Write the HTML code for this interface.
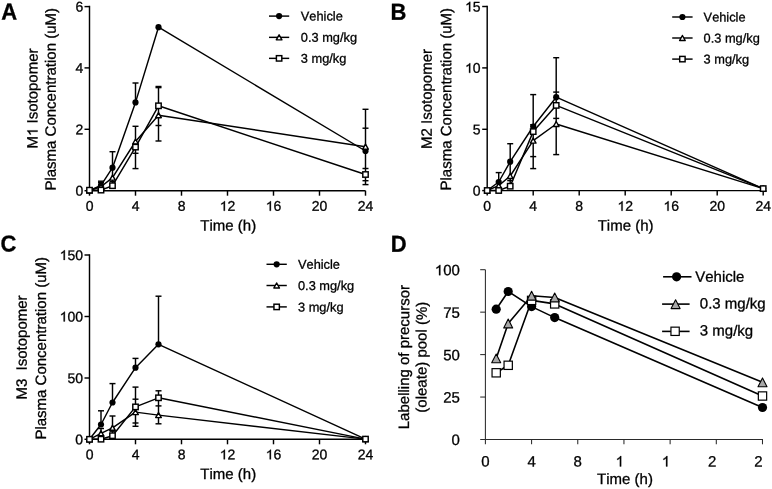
<!DOCTYPE html>
<html><head><meta charset="utf-8"><style>
html,body{margin:0;padding:0;background:#fff;}
body{width:772px;height:489px;overflow:hidden;}
svg{display:block;font-family:"Liberation Sans", sans-serif;will-change:transform;text-rendering:geometricPrecision;font-kerning:none;}
text{fill:#000;stroke:#000;stroke-width:0.3px;} path{fill:#000;stroke:#000;} .h{fill-opacity:0;stroke-opacity:0;}
</style></head><body>
<svg width="772" height="489" viewBox="0 0 772 489">
<rect width="772" height="489" fill="#fff"/>
<line x1="89.50" y1="5.78" x2="89.50" y2="191.42" stroke="#000" stroke-width="1.45"/>
<line x1="89.50" y1="190.70" x2="365.50" y2="190.70" stroke="#000" stroke-width="1.45"/>
<line x1="84.50" y1="6.60" x2="89.50" y2="6.60" stroke="#000" stroke-width="1.45"/>
<g transform="translate(83.20,11.50) rotate(0.05)"><text x="-7.79" y="0" font-size="14">6</text></g>
<line x1="84.50" y1="67.90" x2="89.50" y2="67.90" stroke="#000" stroke-width="1.45"/>
<g transform="translate(83.20,72.80) rotate(0.05)"><text x="-7.79" y="0" font-size="14">4</text></g>
<line x1="84.50" y1="129.30" x2="89.50" y2="129.30" stroke="#000" stroke-width="1.45"/>
<g transform="translate(83.20,134.20) rotate(0.05)"><text x="-7.79" y="0" font-size="14">2</text></g>
<line x1="84.50" y1="190.70" x2="89.50" y2="190.70" stroke="#000" stroke-width="1.45"/>
<g transform="translate(83.20,195.60) rotate(0.05)"><text x="-7.79" y="0" font-size="14">0</text></g>
<line x1="89.50" y1="190.70" x2="89.50" y2="195.70" stroke="#000" stroke-width="1.45"/>
<g transform="translate(89.50,210.80) rotate(0.05)"><text x="-3.89" y="0" font-size="14">0</text></g>
<line x1="135.50" y1="190.70" x2="135.50" y2="195.70" stroke="#000" stroke-width="1.45"/>
<g transform="translate(135.50,210.80) rotate(0.05)"><text x="-3.89" y="0" font-size="14">4</text></g>
<line x1="181.50" y1="190.70" x2="181.50" y2="195.70" stroke="#000" stroke-width="1.45"/>
<g transform="translate(181.50,210.80) rotate(0.05)"><text x="-3.89" y="0" font-size="14">8</text></g>
<line x1="227.50" y1="190.70" x2="227.50" y2="195.70" stroke="#000" stroke-width="1.45"/>
<g transform="translate(227.50,210.80) rotate(0.05)"><text x="-7.79" y="0" font-size="14"><tspan class="h">1</tspan>2</text><path transform="translate(-7.79,0) scale(0.00684,-0.00684)" d="M763 0L583 0L583 1098C540 1059 483 1018 413 979C342 940 279 910 223 890L223 1057C324 1102 412 1156 487 1221C562 1286 615 1349 647 1409L763 1409Z" stroke-width="43.9"/></g>
<line x1="273.50" y1="190.70" x2="273.50" y2="195.70" stroke="#000" stroke-width="1.45"/>
<g transform="translate(273.50,210.80) rotate(0.05)"><text x="-7.79" y="0" font-size="14"><tspan class="h">1</tspan>6</text><path transform="translate(-7.79,0) scale(0.00684,-0.00684)" d="M763 0L583 0L583 1098C540 1059 483 1018 413 979C342 940 279 910 223 890L223 1057C324 1102 412 1156 487 1221C562 1286 615 1349 647 1409L763 1409Z" stroke-width="43.9"/></g>
<line x1="319.50" y1="190.70" x2="319.50" y2="195.70" stroke="#000" stroke-width="1.45"/>
<g transform="translate(319.50,210.80) rotate(0.05)"><text x="-7.79" y="0" font-size="14">20</text></g>
<line x1="365.50" y1="190.70" x2="365.50" y2="195.70" stroke="#000" stroke-width="1.45"/>
<g transform="translate(365.50,210.80) rotate(0.05)"><text x="-7.79" y="0" font-size="14">24</text></g>
<g transform="translate(228.20,230.50) rotate(0.05)"><text x="-27.92" y="0" font-size="15">Time&#160;(h)</text></g>
<g transform="translate(37.60,98.50) rotate(-89.95)"><text x="-50.02" y="0" font-size="15">M<tspan class="h">1</tspan>&#160;Isotopomer</text><path transform="translate(-37.53,0) scale(0.00732,-0.00732)" d="M763 0L583 0L583 1098C540 1059 483 1018 413 979C342 940 279 910 223 890L223 1057C324 1102 412 1156 487 1221C562 1286 615 1349 647 1409L763 1409Z" stroke-width="41.0"/></g>
<g transform="translate(55.80,99.30) rotate(-89.95)"><text x="-91.29" y="0" font-size="15">Plasma&#160;Concentration&#160;(uM)</text></g>
<g transform="translate(1.20,19.60) rotate(0.05) scale(1,1.05)"><text x="0.00" y="0" font-size="22" font-weight="bold">A</text></g>
<polyline points="89.50,190.50 101.00,185.40 112.50,167.70 135.50,102.40 158.50,27.20 365.50,151.00" fill="none" stroke="#000" stroke-width="1.45" stroke-linejoin="round"/>
<polyline points="89.50,190.50 101.00,186.80 112.50,177.60 135.50,141.50 158.50,115.20 365.50,146.70" fill="none" stroke="#000" stroke-width="1.45" stroke-linejoin="round"/>
<polyline points="89.50,190.20 101.00,190.10 112.50,185.70 135.50,147.10 158.50,105.80 365.50,174.50" fill="none" stroke="#000" stroke-width="1.45" stroke-linejoin="round"/>
<line x1="101.00" y1="181.20" x2="101.00" y2="190.00" stroke="#000" stroke-width="1.45"/>
<line x1="98.00" y1="181.20" x2="104.00" y2="181.20" stroke="#000" stroke-width="1.45"/>
<line x1="98.00" y1="182.70" x2="104.00" y2="182.70" stroke="#000" stroke-width="1.45"/>
<line x1="112.50" y1="151.70" x2="112.50" y2="185.70" stroke="#000" stroke-width="1.45"/>
<line x1="109.50" y1="151.70" x2="115.50" y2="151.70" stroke="#000" stroke-width="1.45"/>
<line x1="109.50" y1="181.50" x2="115.50" y2="181.50" stroke="#000" stroke-width="1.45"/>
<line x1="135.50" y1="83.00" x2="135.50" y2="102.40" stroke="#000" stroke-width="1.45"/>
<line x1="132.50" y1="83.00" x2="138.50" y2="83.00" stroke="#000" stroke-width="1.45"/>
<line x1="135.50" y1="126.30" x2="135.50" y2="168.60" stroke="#000" stroke-width="1.45"/>
<line x1="132.50" y1="126.30" x2="138.50" y2="126.30" stroke="#000" stroke-width="1.45"/>
<line x1="132.50" y1="153.30" x2="138.50" y2="153.30" stroke="#000" stroke-width="1.45"/>
<line x1="132.50" y1="168.60" x2="138.50" y2="168.60" stroke="#000" stroke-width="1.45"/>
<line x1="158.50" y1="87.00" x2="158.50" y2="141.00" stroke="#000" stroke-width="1.45"/>
<line x1="155.50" y1="86.50" x2="161.50" y2="86.50" stroke="#000" stroke-width="1.45"/>
<line x1="155.50" y1="87.60" x2="161.50" y2="87.60" stroke="#000" stroke-width="1.45"/>
<line x1="155.50" y1="125.50" x2="161.50" y2="125.50" stroke="#000" stroke-width="1.45"/>
<line x1="155.50" y1="141.00" x2="161.50" y2="141.00" stroke="#000" stroke-width="1.45"/>
<line x1="365.50" y1="109.30" x2="365.50" y2="184.60" stroke="#000" stroke-width="1.45"/>
<line x1="362.50" y1="109.30" x2="368.50" y2="109.30" stroke="#000" stroke-width="1.45"/>
<line x1="362.50" y1="128.20" x2="368.50" y2="128.20" stroke="#000" stroke-width="1.45"/>
<line x1="362.50" y1="168.50" x2="368.50" y2="168.50" stroke="#000" stroke-width="1.45"/>
<line x1="362.50" y1="180.70" x2="368.50" y2="180.70" stroke="#000" stroke-width="1.45"/>
<line x1="362.50" y1="184.60" x2="368.50" y2="184.60" stroke="#000" stroke-width="1.45"/>
<circle cx="89.50" cy="190.50" r="3.1" fill="#000" stroke="#000" stroke-width="0"/>
<circle cx="101.00" cy="185.40" r="3.1" fill="#000" stroke="#000" stroke-width="0"/>
<circle cx="112.50" cy="167.70" r="3.1" fill="#000" stroke="#000" stroke-width="0"/>
<circle cx="135.50" cy="102.40" r="3.1" fill="#000" stroke="#000" stroke-width="0"/>
<circle cx="158.50" cy="27.20" r="3.1" fill="#000" stroke="#000" stroke-width="0"/>
<circle cx="365.50" cy="151.00" r="3.1" fill="#000" stroke="#000" stroke-width="0"/>
<polygon points="89.50,188.00 92.30,193.00 86.70,193.00" fill="#fff" stroke="#000" stroke-width="1.45" stroke-linejoin="round"/>
<polygon points="101.00,184.30 103.80,189.30 98.20,189.30" fill="#fff" stroke="#000" stroke-width="1.45" stroke-linejoin="round"/>
<polygon points="112.50,175.10 115.30,180.10 109.70,180.10" fill="#fff" stroke="#000" stroke-width="1.45" stroke-linejoin="round"/>
<polygon points="135.50,139.00 138.30,144.00 132.70,144.00" fill="#fff" stroke="#000" stroke-width="1.45" stroke-linejoin="round"/>
<polygon points="158.50,112.70 161.30,117.70 155.70,117.70" fill="#fff" stroke="#000" stroke-width="1.45" stroke-linejoin="round"/>
<polygon points="365.50,144.20 368.30,149.20 362.70,149.20" fill="#fff" stroke="#000" stroke-width="1.45" stroke-linejoin="round"/>
<rect x="86.80" y="187.50" width="5.4" height="5.4" fill="#fff" stroke="#000" stroke-width="1.45"/>
<rect x="98.30" y="187.40" width="5.4" height="5.4" fill="#fff" stroke="#000" stroke-width="1.45"/>
<rect x="109.80" y="183.00" width="5.4" height="5.4" fill="#fff" stroke="#000" stroke-width="1.45"/>
<rect x="132.80" y="144.40" width="5.4" height="5.4" fill="#fff" stroke="#000" stroke-width="1.45"/>
<rect x="155.80" y="103.10" width="5.4" height="5.4" fill="#fff" stroke="#000" stroke-width="1.45"/>
<rect x="362.80" y="171.80" width="5.4" height="5.4" fill="#fff" stroke="#000" stroke-width="1.45"/>
<line x1="269.00" y1="16.10" x2="289.20" y2="16.10" stroke="#000" stroke-width="1.45"/>
<circle cx="279.10" cy="16.10" r="3.1" fill="#000" stroke="#000" stroke-width="0"/>
<g transform="translate(300.80,20.50) rotate(0.05)"><text x="0.00" y="0" font-size="12.8">Vehicle</text></g>
<line x1="269.00" y1="37.35" x2="289.20" y2="37.35" stroke="#000" stroke-width="1.45"/>
<polygon points="279.10,34.85 281.90,39.85 276.30,39.85" fill="#fff" stroke="#000" stroke-width="1.45" stroke-linejoin="round"/>
<g transform="translate(300.80,41.75) rotate(0.05)"><text x="0.00" y="0" font-size="12.8">0.3&#160;mg/kg</text></g>
<line x1="269.00" y1="58.35" x2="289.20" y2="58.35" stroke="#000" stroke-width="1.45"/>
<rect x="276.40" y="55.65" width="5.4" height="5.4" fill="#fff" stroke="#000" stroke-width="1.45"/>
<g transform="translate(300.80,62.75) rotate(0.05)"><text x="0.00" y="0" font-size="12.8">3&#160;mg/kg</text></g>
<line x1="487.20" y1="5.78" x2="487.20" y2="191.32" stroke="#000" stroke-width="1.45"/>
<line x1="487.20" y1="190.60" x2="763.20" y2="190.60" stroke="#000" stroke-width="1.45"/>
<line x1="482.20" y1="6.50" x2="487.20" y2="6.50" stroke="#000" stroke-width="1.45"/>
<g transform="translate(480.60,11.45) rotate(0.05)"><text x="-15.57" y="0" font-size="14"><tspan class="h">1</tspan>5</text><path transform="translate(-15.57,0) scale(0.00684,-0.00684)" d="M763 0L583 0L583 1098C540 1059 483 1018 413 979C342 940 279 910 223 890L223 1057C324 1102 412 1156 487 1221C562 1286 615 1349 647 1409L763 1409Z" stroke-width="43.9"/></g>
<line x1="482.20" y1="67.90" x2="487.20" y2="67.90" stroke="#000" stroke-width="1.45"/>
<g transform="translate(480.60,72.85) rotate(0.05)"><text x="-15.57" y="0" font-size="14"><tspan class="h">1</tspan>0</text><path transform="translate(-15.57,0) scale(0.00684,-0.00684)" d="M763 0L583 0L583 1098C540 1059 483 1018 413 979C342 940 279 910 223 890L223 1057C324 1102 412 1156 487 1221C562 1286 615 1349 647 1409L763 1409Z" stroke-width="43.9"/></g>
<line x1="482.20" y1="129.30" x2="487.20" y2="129.30" stroke="#000" stroke-width="1.45"/>
<g transform="translate(480.60,134.25) rotate(0.05)"><text x="-7.79" y="0" font-size="14">5</text></g>
<line x1="482.20" y1="190.60" x2="487.20" y2="190.60" stroke="#000" stroke-width="1.45"/>
<g transform="translate(480.60,195.55) rotate(0.05)"><text x="-7.79" y="0" font-size="14">0</text></g>
<line x1="487.20" y1="190.60" x2="487.20" y2="195.60" stroke="#000" stroke-width="1.45"/>
<g transform="translate(487.20,210.80) rotate(0.05)"><text x="-3.89" y="0" font-size="14">0</text></g>
<line x1="533.20" y1="190.60" x2="533.20" y2="195.60" stroke="#000" stroke-width="1.45"/>
<g transform="translate(533.20,210.80) rotate(0.05)"><text x="-3.89" y="0" font-size="14">4</text></g>
<line x1="579.20" y1="190.60" x2="579.20" y2="195.60" stroke="#000" stroke-width="1.45"/>
<g transform="translate(579.20,210.80) rotate(0.05)"><text x="-3.89" y="0" font-size="14">8</text></g>
<line x1="625.20" y1="190.60" x2="625.20" y2="195.60" stroke="#000" stroke-width="1.45"/>
<g transform="translate(625.20,210.80) rotate(0.05)"><text x="-7.79" y="0" font-size="14"><tspan class="h">1</tspan>2</text><path transform="translate(-7.79,0) scale(0.00684,-0.00684)" d="M763 0L583 0L583 1098C540 1059 483 1018 413 979C342 940 279 910 223 890L223 1057C324 1102 412 1156 487 1221C562 1286 615 1349 647 1409L763 1409Z" stroke-width="43.9"/></g>
<line x1="671.20" y1="190.60" x2="671.20" y2="195.60" stroke="#000" stroke-width="1.45"/>
<g transform="translate(671.20,210.80) rotate(0.05)"><text x="-7.79" y="0" font-size="14"><tspan class="h">1</tspan>6</text><path transform="translate(-7.79,0) scale(0.00684,-0.00684)" d="M763 0L583 0L583 1098C540 1059 483 1018 413 979C342 940 279 910 223 890L223 1057C324 1102 412 1156 487 1221C562 1286 615 1349 647 1409L763 1409Z" stroke-width="43.9"/></g>
<line x1="717.20" y1="190.60" x2="717.20" y2="195.60" stroke="#000" stroke-width="1.45"/>
<g transform="translate(717.20,210.80) rotate(0.05)"><text x="-7.79" y="0" font-size="14">20</text></g>
<line x1="763.20" y1="190.60" x2="763.20" y2="195.60" stroke="#000" stroke-width="1.45"/>
<g transform="translate(763.20,210.80) rotate(0.05)"><text x="-7.79" y="0" font-size="14">24</text></g>
<g transform="translate(625.60,230.50) rotate(0.05)"><text x="-27.92" y="0" font-size="15">Time&#160;(h)</text></g>
<g transform="translate(431.80,99.00) rotate(-89.95)"><text x="-50.02" y="0" font-size="15">M2&#160;Isotopomer</text></g>
<g transform="translate(451.20,99.20) rotate(-89.95)"><text x="-91.29" y="0" font-size="15">Plasma&#160;Concentration&#160;(uM)</text></g>
<g transform="translate(390.60,19.70) rotate(0.05) scale(1,1.05)"><text x="0.00" y="0" font-size="22" font-weight="bold">B</text></g>
<polyline points="487.20,190.50 498.70,182.00 510.20,161.70 533.20,126.50 556.20,97.20 763.20,188.60" fill="none" stroke="#000" stroke-width="1.45" stroke-linejoin="round"/>
<polyline points="487.20,190.50 498.70,185.60 510.20,176.00 533.20,140.60 556.20,124.00 763.20,188.60" fill="none" stroke="#000" stroke-width="1.45" stroke-linejoin="round"/>
<polyline points="487.20,190.50 498.70,190.50 510.20,186.20 533.20,131.60 556.20,105.40 763.20,188.60" fill="none" stroke="#000" stroke-width="1.45" stroke-linejoin="round"/>
<line x1="498.70" y1="172.60" x2="498.70" y2="190.00" stroke="#000" stroke-width="1.45"/>
<line x1="495.70" y1="172.60" x2="501.70" y2="172.60" stroke="#000" stroke-width="1.45"/>
<line x1="510.20" y1="143.70" x2="510.20" y2="186.00" stroke="#000" stroke-width="1.45"/>
<line x1="507.20" y1="143.70" x2="513.20" y2="143.70" stroke="#000" stroke-width="1.45"/>
<line x1="507.20" y1="180.60" x2="513.20" y2="180.60" stroke="#000" stroke-width="1.45"/>
<line x1="533.20" y1="94.60" x2="533.20" y2="168.60" stroke="#000" stroke-width="1.45"/>
<line x1="530.20" y1="94.60" x2="536.20" y2="94.60" stroke="#000" stroke-width="1.45"/>
<line x1="530.20" y1="124.70" x2="536.20" y2="124.70" stroke="#000" stroke-width="1.45"/>
<line x1="530.20" y1="156.60" x2="536.20" y2="156.60" stroke="#000" stroke-width="1.45"/>
<line x1="530.20" y1="168.60" x2="536.20" y2="168.60" stroke="#000" stroke-width="1.45"/>
<line x1="556.20" y1="57.70" x2="556.20" y2="154.60" stroke="#000" stroke-width="1.45"/>
<line x1="553.20" y1="57.70" x2="559.20" y2="57.70" stroke="#000" stroke-width="1.45"/>
<line x1="553.20" y1="92.10" x2="559.20" y2="92.10" stroke="#000" stroke-width="1.45"/>
<line x1="553.20" y1="118.40" x2="559.20" y2="118.40" stroke="#000" stroke-width="1.45"/>
<line x1="553.20" y1="154.60" x2="559.20" y2="154.60" stroke="#000" stroke-width="1.45"/>
<circle cx="487.20" cy="190.50" r="3.1" fill="#000" stroke="#000" stroke-width="0"/>
<circle cx="498.70" cy="182.00" r="3.1" fill="#000" stroke="#000" stroke-width="0"/>
<circle cx="510.20" cy="161.70" r="3.1" fill="#000" stroke="#000" stroke-width="0"/>
<circle cx="533.20" cy="126.50" r="3.1" fill="#000" stroke="#000" stroke-width="0"/>
<circle cx="556.20" cy="97.20" r="3.1" fill="#000" stroke="#000" stroke-width="0"/>
<circle cx="763.20" cy="188.60" r="3.1" fill="#000" stroke="#000" stroke-width="0"/>
<polygon points="487.20,188.00 490.00,193.00 484.40,193.00" fill="#fff" stroke="#000" stroke-width="1.45" stroke-linejoin="round"/>
<polygon points="498.70,183.10 501.50,188.10 495.90,188.10" fill="#fff" stroke="#000" stroke-width="1.45" stroke-linejoin="round"/>
<polygon points="510.20,173.50 513.00,178.50 507.40,178.50" fill="#fff" stroke="#000" stroke-width="1.45" stroke-linejoin="round"/>
<polygon points="533.20,138.10 536.00,143.10 530.40,143.10" fill="#fff" stroke="#000" stroke-width="1.45" stroke-linejoin="round"/>
<polygon points="556.20,121.50 559.00,126.50 553.40,126.50" fill="#fff" stroke="#000" stroke-width="1.45" stroke-linejoin="round"/>
<polygon points="763.20,186.10 766.00,191.10 760.40,191.10" fill="#fff" stroke="#000" stroke-width="1.45" stroke-linejoin="round"/>
<rect x="484.50" y="187.80" width="5.4" height="5.4" fill="#fff" stroke="#000" stroke-width="1.45"/>
<rect x="496.00" y="187.80" width="5.4" height="5.4" fill="#fff" stroke="#000" stroke-width="1.45"/>
<rect x="507.50" y="183.50" width="5.4" height="5.4" fill="#fff" stroke="#000" stroke-width="1.45"/>
<rect x="530.50" y="128.90" width="5.4" height="5.4" fill="#fff" stroke="#000" stroke-width="1.45"/>
<rect x="553.50" y="102.70" width="5.4" height="5.4" fill="#fff" stroke="#000" stroke-width="1.45"/>
<rect x="760.50" y="185.90" width="5.4" height="5.4" fill="#fff" stroke="#000" stroke-width="1.45"/>
<line x1="672.20" y1="17.00" x2="692.60" y2="17.00" stroke="#000" stroke-width="1.45"/>
<circle cx="682.40" cy="17.00" r="3.1" fill="#000" stroke="#000" stroke-width="0"/>
<g transform="translate(703.60,21.50) rotate(0.05)"><text x="0.00" y="0" font-size="12.8">Vehicle</text></g>
<line x1="672.20" y1="38.00" x2="692.60" y2="38.00" stroke="#000" stroke-width="1.45"/>
<polygon points="682.40,35.50 685.20,40.50 679.60,40.50" fill="#fff" stroke="#000" stroke-width="1.45" stroke-linejoin="round"/>
<g transform="translate(703.60,42.50) rotate(0.05)"><text x="0.00" y="0" font-size="12.8">0.3&#160;mg/kg</text></g>
<line x1="672.20" y1="59.10" x2="692.60" y2="59.10" stroke="#000" stroke-width="1.45"/>
<rect x="679.70" y="56.40" width="5.4" height="5.4" fill="#fff" stroke="#000" stroke-width="1.45"/>
<g transform="translate(703.60,63.60) rotate(0.05)"><text x="0.00" y="0" font-size="12.8">3&#160;mg/kg</text></g>
<line x1="89.50" y1="254.28" x2="89.50" y2="440.03" stroke="#000" stroke-width="1.45"/>
<line x1="89.50" y1="439.30" x2="365.50" y2="439.30" stroke="#000" stroke-width="1.45"/>
<line x1="84.50" y1="255.00" x2="89.50" y2="255.00" stroke="#000" stroke-width="1.45"/>
<g transform="translate(83.00,259.90) rotate(0.05)"><text x="-23.36" y="0" font-size="14"><tspan class="h">1</tspan>50</text><path transform="translate(-23.36,0) scale(0.00684,-0.00684)" d="M763 0L583 0L583 1098C540 1059 483 1018 413 979C342 940 279 910 223 890L223 1057C324 1102 412 1156 487 1221C562 1286 615 1349 647 1409L763 1409Z" stroke-width="43.9"/></g>
<line x1="84.50" y1="316.50" x2="89.50" y2="316.50" stroke="#000" stroke-width="1.45"/>
<g transform="translate(83.00,321.40) rotate(0.05)"><text x="-23.36" y="0" font-size="14"><tspan class="h">1</tspan>00</text><path transform="translate(-23.36,0) scale(0.00684,-0.00684)" d="M763 0L583 0L583 1098C540 1059 483 1018 413 979C342 940 279 910 223 890L223 1057C324 1102 412 1156 487 1221C562 1286 615 1349 647 1409L763 1409Z" stroke-width="43.9"/></g>
<line x1="84.50" y1="378.00" x2="89.50" y2="378.00" stroke="#000" stroke-width="1.45"/>
<g transform="translate(83.00,382.90) rotate(0.05)"><text x="-15.57" y="0" font-size="14">50</text></g>
<line x1="84.50" y1="439.30" x2="89.50" y2="439.30" stroke="#000" stroke-width="1.45"/>
<g transform="translate(83.00,444.20) rotate(0.05)"><text x="-7.79" y="0" font-size="14">0</text></g>
<line x1="89.50" y1="439.30" x2="89.50" y2="444.30" stroke="#000" stroke-width="1.45"/>
<g transform="translate(89.50,459.30) rotate(0.05)"><text x="-3.89" y="0" font-size="14">0</text></g>
<line x1="135.50" y1="439.30" x2="135.50" y2="444.30" stroke="#000" stroke-width="1.45"/>
<g transform="translate(135.50,459.30) rotate(0.05)"><text x="-3.89" y="0" font-size="14">4</text></g>
<line x1="181.50" y1="439.30" x2="181.50" y2="444.30" stroke="#000" stroke-width="1.45"/>
<g transform="translate(181.50,459.30) rotate(0.05)"><text x="-3.89" y="0" font-size="14">8</text></g>
<line x1="227.50" y1="439.30" x2="227.50" y2="444.30" stroke="#000" stroke-width="1.45"/>
<g transform="translate(227.50,459.30) rotate(0.05)"><text x="-7.79" y="0" font-size="14"><tspan class="h">1</tspan>2</text><path transform="translate(-7.79,0) scale(0.00684,-0.00684)" d="M763 0L583 0L583 1098C540 1059 483 1018 413 979C342 940 279 910 223 890L223 1057C324 1102 412 1156 487 1221C562 1286 615 1349 647 1409L763 1409Z" stroke-width="43.9"/></g>
<line x1="273.50" y1="439.30" x2="273.50" y2="444.30" stroke="#000" stroke-width="1.45"/>
<g transform="translate(273.50,459.30) rotate(0.05)"><text x="-7.79" y="0" font-size="14"><tspan class="h">1</tspan>6</text><path transform="translate(-7.79,0) scale(0.00684,-0.00684)" d="M763 0L583 0L583 1098C540 1059 483 1018 413 979C342 940 279 910 223 890L223 1057C324 1102 412 1156 487 1221C562 1286 615 1349 647 1409L763 1409Z" stroke-width="43.9"/></g>
<line x1="319.50" y1="439.30" x2="319.50" y2="444.30" stroke="#000" stroke-width="1.45"/>
<g transform="translate(319.50,459.30) rotate(0.05)"><text x="-7.79" y="0" font-size="14">20</text></g>
<line x1="365.50" y1="439.30" x2="365.50" y2="444.30" stroke="#000" stroke-width="1.45"/>
<g transform="translate(365.50,459.30) rotate(0.05)"><text x="-7.79" y="0" font-size="14">24</text></g>
<g transform="translate(228.20,479.00) rotate(0.05)"><text x="-27.92" y="0" font-size="15">Time&#160;(h)</text></g>
<g transform="translate(26.80,347.50) rotate(-89.95)"><text x="-52.10" y="0" font-size="15">M3&#160;&#160;Isotopomer</text></g>
<g transform="translate(46.00,348.30) rotate(-89.95)"><text x="-91.29" y="0" font-size="15">Plasma&#160;Concentration&#160;(uM)</text></g>
<g transform="translate(0.50,251.60) rotate(0.05) scale(1,1.05)"><text x="0.00" y="0" font-size="22" font-weight="bold">C</text></g>
<polyline points="89.50,439.30 101.00,424.50 112.50,402.50 135.50,367.70 158.50,344.30 365.50,439.10" fill="none" stroke="#000" stroke-width="1.45" stroke-linejoin="round"/>
<polyline points="89.50,439.30 101.00,433.30 112.50,427.80 135.50,412.10 158.50,415.10 365.50,439.10" fill="none" stroke="#000" stroke-width="1.45" stroke-linejoin="round"/>
<polyline points="89.50,439.30 101.00,439.20 112.50,435.70 135.50,406.90 158.50,397.80 365.50,439.10" fill="none" stroke="#000" stroke-width="1.45" stroke-linejoin="round"/>
<line x1="101.00" y1="410.80" x2="101.00" y2="424.50" stroke="#000" stroke-width="1.45"/>
<line x1="98.00" y1="410.80" x2="104.00" y2="410.80" stroke="#000" stroke-width="1.45"/>
<line x1="101.00" y1="428.50" x2="101.00" y2="439.00" stroke="#000" stroke-width="1.45"/>
<line x1="98.00" y1="428.50" x2="104.00" y2="428.50" stroke="#000" stroke-width="1.45"/>
<line x1="112.50" y1="383.60" x2="112.50" y2="402.50" stroke="#000" stroke-width="1.45"/>
<line x1="109.50" y1="383.60" x2="115.50" y2="383.60" stroke="#000" stroke-width="1.45"/>
<line x1="112.50" y1="416.00" x2="112.50" y2="436.00" stroke="#000" stroke-width="1.45"/>
<line x1="109.50" y1="416.00" x2="115.50" y2="416.00" stroke="#000" stroke-width="1.45"/>
<line x1="109.50" y1="431.20" x2="115.50" y2="431.20" stroke="#000" stroke-width="1.45"/>
<line x1="135.50" y1="358.40" x2="135.50" y2="367.70" stroke="#000" stroke-width="1.45"/>
<line x1="132.50" y1="358.40" x2="138.50" y2="358.40" stroke="#000" stroke-width="1.45"/>
<line x1="135.50" y1="387.10" x2="135.50" y2="426.30" stroke="#000" stroke-width="1.45"/>
<line x1="132.50" y1="387.10" x2="138.50" y2="387.10" stroke="#000" stroke-width="1.45"/>
<line x1="132.50" y1="399.20" x2="138.50" y2="399.20" stroke="#000" stroke-width="1.45"/>
<line x1="132.50" y1="423.00" x2="138.50" y2="423.00" stroke="#000" stroke-width="1.45"/>
<line x1="132.50" y1="426.30" x2="138.50" y2="426.30" stroke="#000" stroke-width="1.45"/>
<line x1="158.50" y1="296.20" x2="158.50" y2="344.30" stroke="#000" stroke-width="1.45"/>
<line x1="155.50" y1="296.20" x2="161.50" y2="296.20" stroke="#000" stroke-width="1.45"/>
<line x1="158.50" y1="390.80" x2="158.50" y2="423.80" stroke="#000" stroke-width="1.45"/>
<line x1="155.50" y1="390.80" x2="161.50" y2="390.80" stroke="#000" stroke-width="1.45"/>
<line x1="155.50" y1="405.90" x2="161.50" y2="405.90" stroke="#000" stroke-width="1.45"/>
<line x1="155.50" y1="423.80" x2="161.50" y2="423.80" stroke="#000" stroke-width="1.45"/>
<circle cx="89.50" cy="439.30" r="3.1" fill="#000" stroke="#000" stroke-width="0"/>
<circle cx="101.00" cy="424.50" r="3.1" fill="#000" stroke="#000" stroke-width="0"/>
<circle cx="112.50" cy="402.50" r="3.1" fill="#000" stroke="#000" stroke-width="0"/>
<circle cx="135.50" cy="367.70" r="3.1" fill="#000" stroke="#000" stroke-width="0"/>
<circle cx="158.50" cy="344.30" r="3.1" fill="#000" stroke="#000" stroke-width="0"/>
<circle cx="365.50" cy="439.10" r="3.1" fill="#000" stroke="#000" stroke-width="0"/>
<polygon points="89.50,436.80 92.30,441.80 86.70,441.80" fill="#fff" stroke="#000" stroke-width="1.45" stroke-linejoin="round"/>
<polygon points="101.00,430.80 103.80,435.80 98.20,435.80" fill="#fff" stroke="#000" stroke-width="1.45" stroke-linejoin="round"/>
<polygon points="112.50,425.30 115.30,430.30 109.70,430.30" fill="#fff" stroke="#000" stroke-width="1.45" stroke-linejoin="round"/>
<polygon points="135.50,409.60 138.30,414.60 132.70,414.60" fill="#fff" stroke="#000" stroke-width="1.45" stroke-linejoin="round"/>
<polygon points="158.50,412.60 161.30,417.60 155.70,417.60" fill="#fff" stroke="#000" stroke-width="1.45" stroke-linejoin="round"/>
<polygon points="365.50,436.60 368.30,441.60 362.70,441.60" fill="#fff" stroke="#000" stroke-width="1.45" stroke-linejoin="round"/>
<rect x="86.80" y="436.60" width="5.4" height="5.4" fill="#fff" stroke="#000" stroke-width="1.45"/>
<rect x="98.30" y="436.50" width="5.4" height="5.4" fill="#fff" stroke="#000" stroke-width="1.45"/>
<rect x="109.80" y="433.00" width="5.4" height="5.4" fill="#fff" stroke="#000" stroke-width="1.45"/>
<rect x="132.80" y="404.20" width="5.4" height="5.4" fill="#fff" stroke="#000" stroke-width="1.45"/>
<rect x="155.80" y="395.10" width="5.4" height="5.4" fill="#fff" stroke="#000" stroke-width="1.45"/>
<rect x="362.80" y="436.40" width="5.4" height="5.4" fill="#fff" stroke="#000" stroke-width="1.45"/>
<line x1="266.50" y1="264.30" x2="286.80" y2="264.30" stroke="#000" stroke-width="1.45"/>
<circle cx="276.65" cy="264.30" r="3.1" fill="#000" stroke="#000" stroke-width="0"/>
<g transform="translate(298.00,268.80) rotate(0.05)"><text x="0.00" y="0" font-size="12.8">Vehicle</text></g>
<line x1="266.50" y1="285.50" x2="286.80" y2="285.50" stroke="#000" stroke-width="1.45"/>
<polygon points="276.65,283.00 279.45,288.00 273.85,288.00" fill="#fff" stroke="#000" stroke-width="1.45" stroke-linejoin="round"/>
<g transform="translate(298.00,290.00) rotate(0.05)"><text x="0.00" y="0" font-size="12.8">0.3&#160;mg/kg</text></g>
<line x1="266.50" y1="306.90" x2="286.80" y2="306.90" stroke="#000" stroke-width="1.45"/>
<rect x="273.95" y="304.20" width="5.4" height="5.4" fill="#fff" stroke="#000" stroke-width="1.45"/>
<g transform="translate(298.00,311.40) rotate(0.05)"><text x="0.00" y="0" font-size="12.8">3&#160;mg/kg</text></g>
<line x1="485.40" y1="269.70" x2="485.40" y2="439.50" stroke="#2a2a2a" stroke-width="1.05"/>
<line x1="480.20" y1="439.50" x2="762.98" y2="439.50" stroke="#2a2a2a" stroke-width="1.05"/>
<line x1="480.20" y1="269.70" x2="485.40" y2="269.70" stroke="#2a2a2a" stroke-width="1.05"/>
<line x1="480.20" y1="312.15" x2="485.40" y2="312.15" stroke="#2a2a2a" stroke-width="1.05"/>
<line x1="480.20" y1="354.60" x2="485.40" y2="354.60" stroke="#2a2a2a" stroke-width="1.05"/>
<line x1="480.20" y1="397.05" x2="485.40" y2="397.05" stroke="#2a2a2a" stroke-width="1.05"/>
<g transform="translate(459.80,275.25) rotate(0.05)"><text x="-25.03" y="0" font-size="15"><tspan class="h">1</tspan>00</text><path transform="translate(-25.03,0) scale(0.00732,-0.00732)" d="M763 0L583 0L583 1098C540 1059 483 1018 413 979C342 940 279 910 223 890L223 1057C324 1102 412 1156 487 1221C562 1286 615 1349 647 1409L763 1409Z" stroke-width="41.0"/></g>
<g transform="translate(459.80,317.70) rotate(0.05)"><text x="-16.68" y="0" font-size="15">75</text></g>
<g transform="translate(459.80,360.15) rotate(0.05)"><text x="-16.68" y="0" font-size="15">50</text></g>
<g transform="translate(459.80,402.60) rotate(0.05)"><text x="-16.68" y="0" font-size="15">25</text></g>
<g transform="translate(459.80,445.05) rotate(0.05)"><text x="-8.34" y="0" font-size="15">0</text></g>
<line x1="485.40" y1="439.50" x2="485.40" y2="444.30" stroke="#2a2a2a" stroke-width="1.05"/>
<g transform="translate(481.23,466.40) rotate(0.05)"><text x="0.00" y="0" font-size="15">0</text></g>
<line x1="531.58" y1="439.50" x2="531.58" y2="444.30" stroke="#2a2a2a" stroke-width="1.05"/>
<g transform="translate(527.41,466.40) rotate(0.05)"><text x="0.00" y="0" font-size="15">4</text></g>
<line x1="577.76" y1="439.50" x2="577.76" y2="444.30" stroke="#2a2a2a" stroke-width="1.05"/>
<g transform="translate(573.59,466.40) rotate(0.05)"><text x="0.00" y="0" font-size="15">8</text></g>
<line x1="623.94" y1="439.50" x2="623.94" y2="444.30" stroke="#2a2a2a" stroke-width="1.05"/>
<g transform="translate(615.60,466.40) rotate(0.05)"><text x="0.00" y="0" font-size="15"><tspan class="h">1</tspan></text><path transform="translate(0.00,0) scale(0.00732,-0.00732)" d="M763 0L583 0L583 1098C540 1059 483 1018 413 979C342 940 279 910 223 890L223 1057C324 1102 412 1156 487 1221C562 1286 615 1349 647 1409L763 1409Z" stroke-width="41.0"/></g>
<line x1="670.12" y1="439.50" x2="670.12" y2="444.30" stroke="#2a2a2a" stroke-width="1.05"/>
<g transform="translate(661.78,466.40) rotate(0.05)"><text x="0.00" y="0" font-size="15"><tspan class="h">1</tspan></text><path transform="translate(0.00,0) scale(0.00732,-0.00732)" d="M763 0L583 0L583 1098C540 1059 483 1018 413 979C342 940 279 910 223 890L223 1057C324 1102 412 1156 487 1221C562 1286 615 1349 647 1409L763 1409Z" stroke-width="41.0"/></g>
<line x1="716.30" y1="439.50" x2="716.30" y2="444.30" stroke="#2a2a2a" stroke-width="1.05"/>
<g transform="translate(707.96,466.40) rotate(0.05)"><text x="0.00" y="0" font-size="15">2</text></g>
<line x1="762.48" y1="439.50" x2="762.48" y2="444.30" stroke="#2a2a2a" stroke-width="1.05"/>
<g transform="translate(754.14,466.40) rotate(0.05)"><text x="0.00" y="0" font-size="15">2</text></g>
<g transform="translate(625.00,484.10) rotate(0.05)"><text x="-27.92" y="0" font-size="15">Time&#160;(h)</text></g>
<g transform="translate(409.10,357.10) rotate(-89.95)"><text x="-72.13" y="0" font-size="15">Labelling&#160;of&#160;precursor</text></g>
<g transform="translate(426.60,357.20) rotate(-89.95)"><text x="-55.44" y="0" font-size="15">(oleate)&#160;pool&#160;(%)</text></g>
<g transform="translate(390.80,251.70) rotate(0.05) scale(1,1.05)"><text x="0.00" y="0" font-size="22" font-weight="bold">D</text></g>
<polyline points="496.20,309.20 508.20,291.50 531.60,306.60 554.70,317.60 762.50,407.50" fill="none" stroke="#000" stroke-width="1.6" stroke-linejoin="round"/>
<polyline points="496.20,358.40 508.20,323.50 531.60,295.75 554.70,297.45 762.50,382.30" fill="none" stroke="#000" stroke-width="1.6" stroke-linejoin="round"/>
<polyline points="496.20,372.80 508.20,365.30 531.60,300.40 554.70,303.90 762.50,396.00" fill="none" stroke="#000" stroke-width="1.6" stroke-linejoin="round"/>
<circle cx="496.20" cy="309.20" r="4.6" fill="#000" stroke="#000" stroke-width="0"/>
<circle cx="508.20" cy="291.50" r="4.6" fill="#000" stroke="#000" stroke-width="0"/>
<circle cx="531.60" cy="306.60" r="4.6" fill="#000" stroke="#000" stroke-width="0"/>
<circle cx="554.70" cy="317.60" r="4.6" fill="#000" stroke="#000" stroke-width="0"/>
<circle cx="762.50" cy="407.50" r="4.6" fill="#000" stroke="#000" stroke-width="0"/>
<rect x="492.05" y="368.65" width="8.3" height="8.3" fill="#fff" stroke="#000" stroke-width="1.2"/>
<rect x="504.05" y="361.15" width="8.3" height="8.3" fill="#fff" stroke="#000" stroke-width="1.2"/>
<rect x="527.45" y="296.25" width="8.3" height="8.3" fill="#fff" stroke="#000" stroke-width="1.2"/>
<rect x="550.55" y="299.75" width="8.3" height="8.3" fill="#fff" stroke="#000" stroke-width="1.2"/>
<rect x="758.35" y="391.85" width="8.3" height="8.3" fill="#fff" stroke="#000" stroke-width="1.2"/>
<polygon points="496.20,354.00 500.70,362.80 491.70,362.80" fill="#a8a8a8" stroke="#000" stroke-width="1.1" stroke-linejoin="round"/>
<polygon points="508.20,319.10 512.70,327.90 503.70,327.90" fill="#a8a8a8" stroke="#000" stroke-width="1.1" stroke-linejoin="round"/>
<polygon points="531.60,291.35 536.10,300.15 527.10,300.15" fill="#a8a8a8" stroke="#000" stroke-width="1.1" stroke-linejoin="round"/>
<polygon points="554.70,293.05 559.20,301.85 550.20,301.85" fill="#a8a8a8" stroke="#000" stroke-width="1.1" stroke-linejoin="round"/>
<polygon points="762.50,377.90 767.00,386.70 758.00,386.70" fill="#a8a8a8" stroke="#000" stroke-width="1.1" stroke-linejoin="round"/>
<line x1="663.10" y1="276.80" x2="691.50" y2="276.80" stroke="#000" stroke-width="1.6"/>
<circle cx="676.60" cy="276.80" r="4.6" fill="#000" stroke="#000" stroke-width="0"/>
<g transform="translate(695.20,281.70) rotate(0.05)"><text x="0.00" y="0" font-size="15">Vehicle</text></g>
<line x1="662.10" y1="304.10" x2="689.60" y2="304.10" stroke="#000" stroke-width="1.6"/>
<polygon points="675.60,299.80 680.10,308.60 671.10,308.60" fill="#a8a8a8" stroke="#000" stroke-width="1.1" stroke-linejoin="round"/>
<g transform="translate(699.80,308.50) rotate(0.05)"><text x="0.00" y="0" font-size="15">0.3&#160;mg/kg</text></g>
<line x1="662.10" y1="331.40" x2="689.60" y2="331.40" stroke="#000" stroke-width="1.6"/>
<rect x="670.95" y="327.15" width="8.3" height="8.3" fill="#fff" stroke="#000" stroke-width="1.2"/>
<g transform="translate(699.80,335.60) rotate(0.05)"><text x="0.00" y="0" font-size="15">3&#160;mg/kg</text></g>
</svg>
</body></html>
